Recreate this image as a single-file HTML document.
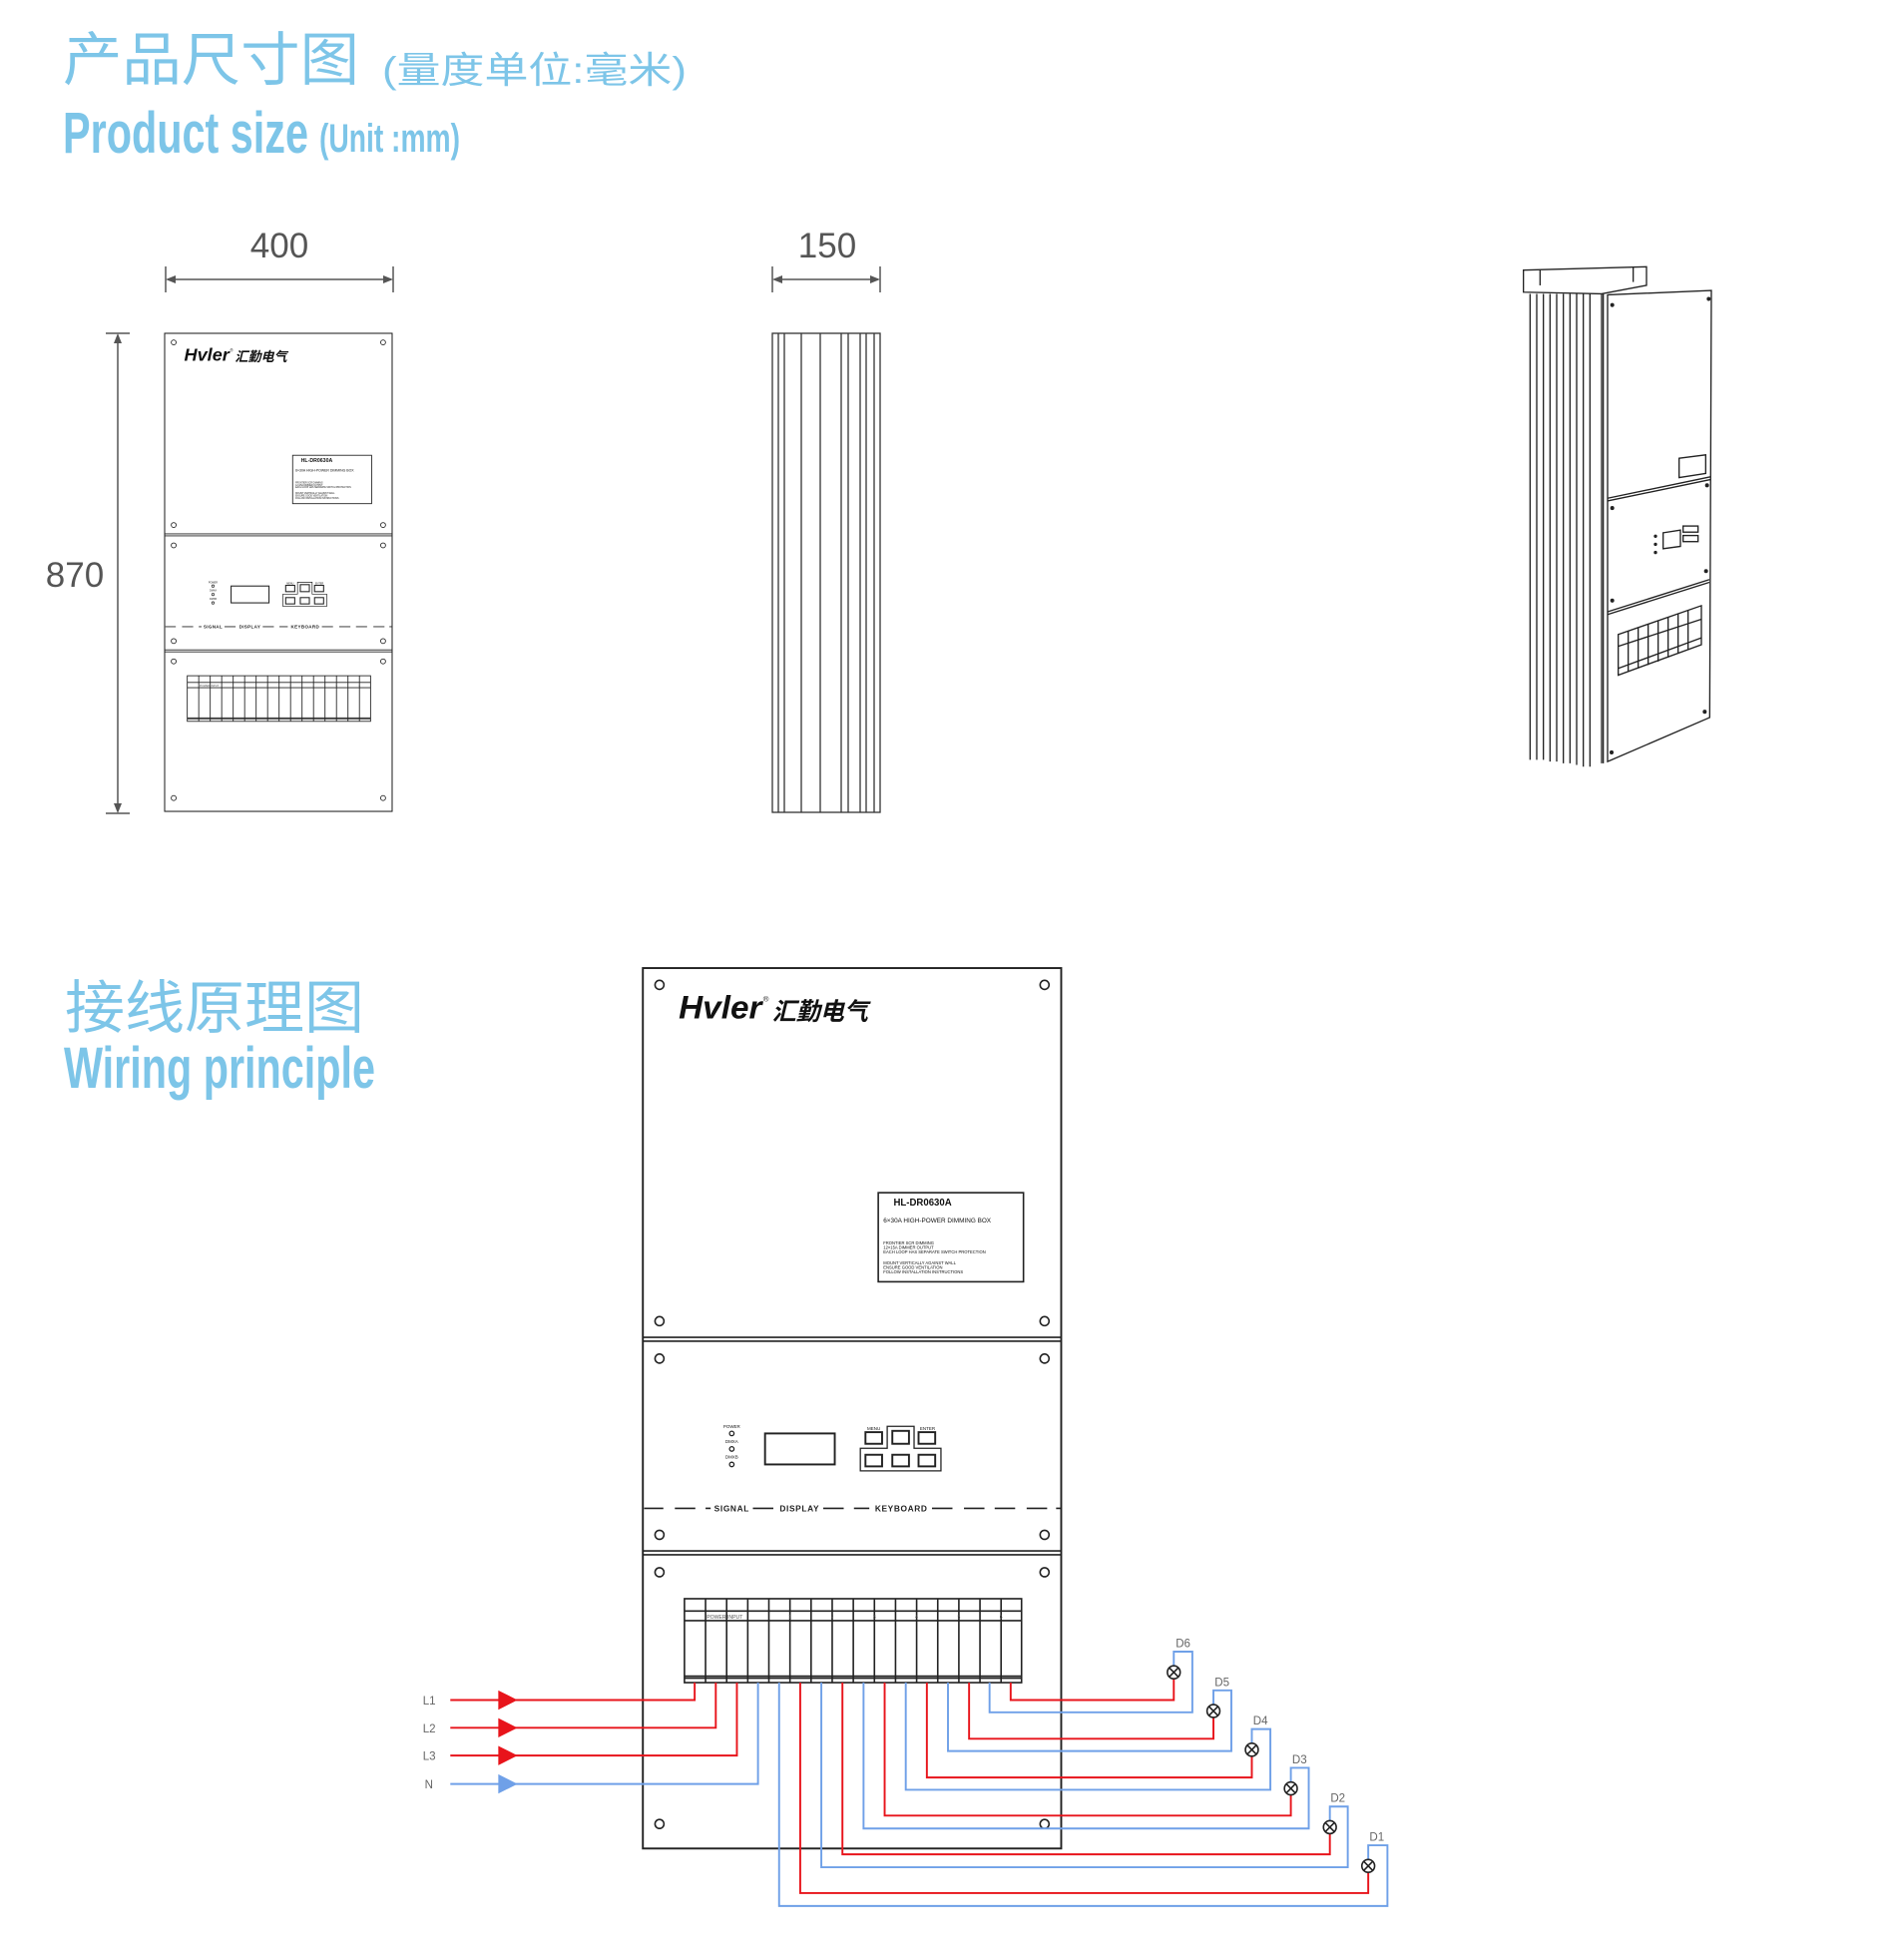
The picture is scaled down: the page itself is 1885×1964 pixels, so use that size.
<!DOCTYPE html>
<html><head><meta charset="utf-8">
<style>
html,body{margin:0;padding:0;background:#fff;}
body{width:1885px;height:1959px;overflow:hidden;}
svg text{font-family:"Liberation Sans","Noto Sans CJK SC",sans-serif;}
</style></head>
<body>
<svg width="1885" height="1959" viewBox="0 0 1885 1959" xmlns="http://www.w3.org/2000/svg" xmlns:xlink="http://www.w3.org/1999/xlink">
<defs>
<g id="panel" fill="none" stroke="#222">
  <rect x="0" y="0" width="654" height="1364" stroke-width="3" fill="#fff"/>
  <line x1="0" y1="572" x2="654" y2="572" stroke-width="2.5"/>
  <line x1="0" y1="578" x2="654" y2="578" stroke-width="2.5"/>
  <line x1="0" y1="903" x2="654" y2="903" stroke-width="2.5"/>
  <line x1="0" y1="909" x2="654" y2="909" stroke-width="2.5"/>
  <g stroke-width="2.5">
    <circle cx="26" cy="26" r="7"/><circle cx="628" cy="26" r="7"/>
    <circle cx="26" cy="547" r="7"/><circle cx="628" cy="547" r="7"/>
    <circle cx="26" cy="605" r="7"/><circle cx="628" cy="605" r="7"/>
    <circle cx="26" cy="878" r="7"/><circle cx="628" cy="878" r="7"/>
    <circle cx="26" cy="936" r="7"/><circle cx="628" cy="936" r="7"/>
    <circle cx="26" cy="1326" r="7"/><circle cx="628" cy="1326" r="7"/>
  </g>
  <g stroke="none" fill="#111">
    <text x="56" y="78" font-size="50" font-style="italic" font-weight="bold" textLength="130" lengthAdjust="spacingAndGlyphs">Hvler</text>
    <text x="188" y="52" font-size="12">®</text>
    <text x="202" y="80" font-size="38" font-weight="bold" font-style="italic" font-family="'Noto Sans CJK SC',sans-serif" textLength="150" lengthAdjust="spacingAndGlyphs">汇勤电气</text>
  </g>
  <rect x="368" y="348" width="227" height="138" stroke-width="2.5"/>
  <g stroke="none" fill="#111">
    <text x="392" y="368" font-size="15" font-weight="bold">HL-DR0630A</text>
    <text x="376" y="394" font-size="10">6×30A HIGH-POWER DIMMING BOX</text>
    <text x="376" y="428" font-size="6.5">FRONTIER SCR DIMMING</text>
    <text x="376" y="435" font-size="6.5">12×15A DIMMER OUTPUT</text>
    <text x="376" y="442" font-size="6.5">EACH LOOP HAS SEPARATE SWITCH PROTECTION</text>
    <text x="376" y="459" font-size="6.5">MOUNT VERTICALLY AGAINST WALL</text>
    <text x="376" y="466" font-size="6.5">ENSURE GOOD VENTILATION</text>
    <text x="376" y="473" font-size="6.5">FOLLOW INSTALLATION INSTRUCTIONS</text>
    <text x="139" y="713" font-size="7" text-anchor="middle">POWER</text>
    <text x="139" y="736" font-size="7" text-anchor="middle">DMXA</text>
    <text x="139" y="760" font-size="7" text-anchor="middle">DMXB</text>
    <text x="361" y="716" font-size="7" text-anchor="middle">MENU</text>
    <text x="445" y="716" font-size="7" text-anchor="middle">ENTER</text>
  </g>
  <circle cx="139" cy="721" r="3.5" stroke-width="2"/>
  <circle cx="139" cy="745" r="3.5" stroke-width="2"/>
  <circle cx="139" cy="769" r="3.5" stroke-width="2"/>
  <rect x="191" y="721" width="109" height="48" stroke-width="3"/>
  <polygon points="340,744 382,744 382,710 424,710 424,744 466,744 466,779 340,779" stroke-width="2"/>
  <g stroke-width="3">
    <rect x="348" y="719" width="26" height="18"/><rect x="390" y="717" width="26" height="20"/><rect x="431" y="719" width="26" height="18"/>
    <rect x="348" y="754" width="26" height="18"/><rect x="390" y="754" width="26" height="18"/><rect x="431" y="754" width="26" height="18"/>
  </g>
  <g stroke-width="2.5">
    <line x1="2" y1="837" x2="32" y2="837"/><line x1="50" y1="837" x2="82" y2="837"/>
    <line x1="98" y1="837" x2="106" y2="837"/><line x1="172" y1="837" x2="204" y2="837"/>
    <line x1="282" y1="837" x2="314" y2="837"/><line x1="330" y1="837" x2="354" y2="837"/>
    <line x1="452" y1="837" x2="484" y2="837"/><line x1="502" y1="837" x2="534" y2="837"/>
    <line x1="550" y1="837" x2="582" y2="837"/><line x1="600" y1="837" x2="632" y2="837"/>
    <line x1="646" y1="837" x2="654" y2="837"/>
  </g>
  <g stroke="none" fill="#222" font-size="13" font-weight="bold" letter-spacing="1">
    <text x="139" y="842" text-anchor="middle">SIGNAL</text>
    <text x="245" y="842" text-anchor="middle">DISPLAY</text>
    <text x="404" y="842" text-anchor="middle">KEYBOARD</text>
  </g>
  <g stroke-width="2.5">
    <rect x="65" y="977" width="527" height="130"/>
    <line x1="65" y1="996" x2="592" y2="996"/>
    <line x1="65" y1="1011" x2="592" y2="1011"/>
    <line x1="65" y1="1097" x2="592" y2="1097"/>
    <line x1="65" y1="1100" x2="592" y2="1100"/>
    <line x1="98" y1="977" x2="98" y2="1107"/><line x1="131" y1="977" x2="131" y2="1107"/>
    <line x1="164" y1="977" x2="164" y2="1107"/><line x1="197" y1="977" x2="197" y2="1107"/>
    <line x1="230" y1="977" x2="230" y2="1107"/><line x1="263" y1="977" x2="263" y2="1107"/>
    <line x1="296" y1="977" x2="296" y2="1107"/><line x1="329" y1="977" x2="329" y2="1107"/>
    <line x1="362" y1="977" x2="362" y2="1107"/><line x1="395" y1="977" x2="395" y2="1107"/>
    <line x1="428" y1="977" x2="428" y2="1107"/><line x1="461" y1="977" x2="461" y2="1107"/>
    <line x1="494" y1="977" x2="494" y2="1107"/><line x1="527" y1="977" x2="527" y2="1107"/>
    <line x1="560" y1="977" x2="560" y2="1107"/>
  </g>
  <g stroke="none" fill="#555" font-size="8" text-anchor="middle">
    <text x="128" y="1008">POWER INPUT</text>
    <text x="230" y="1008">1</text><text x="296" y="1008">2</text><text x="362" y="1008">3</text>
    <text x="428" y="1008">4</text><text x="494" y="1008">5</text><text x="560" y="1008">6</text>
  </g>
</g>
</defs>

<g fill="#7dc5e8">
  <text x="63" y="80" font-size="58" font-family="'Noto Sans CJK SC',sans-serif" textLength="297" lengthAdjust="spacingAndGlyphs">产品尺寸图</text>
  <text x="383" y="83" font-size="37" font-family="'Noto Sans CJK SC',sans-serif" textLength="305" lengthAdjust="spacingAndGlyphs">(量度单位:毫米)</text>
  <text x="63" y="153" font-size="58" font-weight="bold" textLength="246" lengthAdjust="spacingAndGlyphs">Product size</text>
  <text x="320" y="152" font-size="40" font-weight="bold" textLength="141" lengthAdjust="spacingAndGlyphs">(Unit :mm)</text>
  <text x="65" y="1030" font-size="58" font-family="'Noto Sans CJK SC',sans-serif" textLength="300" lengthAdjust="spacingAndGlyphs">接线原理图</text>
  <text x="64" y="1090" font-size="58" font-weight="bold" textLength="312" lengthAdjust="spacingAndGlyphs">Wiring principle</text>
</g>

<g stroke="#555" stroke-width="1.5" fill="#555">
  <line x1="166" y1="267" x2="166" y2="293"/><line x1="394" y1="267" x2="394" y2="293"/>
  <line x1="168" y1="280" x2="392" y2="280"/>
  <polygon points="166,280 176,276 176,284" stroke="none"/><polygon points="394,280 384,276 384,284" stroke="none"/>
  <line x1="774" y1="267" x2="774" y2="293"/><line x1="882" y1="267" x2="882" y2="293"/>
  <line x1="776" y1="280" x2="880" y2="280"/>
  <polygon points="774,280 784,276 784,284" stroke="none"/><polygon points="882,280 872,276 872,284" stroke="none"/>
  <line x1="106" y1="334" x2="130" y2="334"/><line x1="106" y1="815" x2="130" y2="815"/>
  <line x1="118" y1="336" x2="118" y2="813"/>
  <polygon points="118,334 114,344 122,344" stroke="none"/><polygon points="118,815 114,805 122,805" stroke="none"/>
</g>
<g fill="#555" font-size="35" text-anchor="middle">
  <text x="280" y="258">400</text>
  <text x="829" y="258">150</text>
  <text x="75" y="588">870</text>
</g>

<use xlink:href="#panel" href="#panel" transform="translate(165,334) scale(0.3486,0.3512)"/>

<g fill="none" stroke="#333" stroke-width="1.3">
  <rect x="774" y="334" width="108" height="480"/>
  <line x1="780" y1="334" x2="780" y2="814"/><line x1="786" y1="334" x2="786" y2="814"/>
  <line x1="803" y1="334" x2="803" y2="814"/><line x1="822" y1="334" x2="822" y2="814"/>
  <line x1="843" y1="334" x2="843" y2="814"/><line x1="850" y1="334" x2="850" y2="814"/>
  <line x1="862" y1="334" x2="862" y2="814"/><line x1="868" y1="334" x2="868" y2="814"/>
  <line x1="876" y1="334" x2="876" y2="814"/>
</g>

<svg x="1505" y="252" width="250" height="540" viewBox="0 0 750 1590" preserveAspectRatio="none">
<g fill="none" stroke="#222" stroke-width="4">
  <polygon points="65,55 435,45 435,100 300,125 65,120"/>
  <line x1="115" y1="55" x2="115" y2="100"/><line x1="395" y1="47" x2="395" y2="90"/>
  <line x1="85" y1="125" x2="85" y2="1500"/>
  <line x1="105" y1="125" x2="105" y2="1500"/><line x1="125" y1="125" x2="125" y2="1500"/>
  <line x1="145" y1="125" x2="145" y2="1505"/><line x1="165" y1="125" x2="165" y2="1505"/>
  <line x1="185" y1="125" x2="185" y2="1510"/><line x1="205" y1="125" x2="205" y2="1510"/>
  <line x1="225" y1="125" x2="225" y2="1515"/><line x1="245" y1="125" x2="245" y2="1520"/>
  <line x1="265" y1="125" x2="265" y2="1520"/>
  <line x1="300" y1="125" x2="300" y2="1510"/>
  <polygon points="318,128 630,115 625,1375 318,1505"/>
  <line x1="305" y1="125" x2="305" y2="1510"/>
  <line x1="318" y1="728" x2="627" y2="665"/><line x1="318" y1="736" x2="627" y2="673"/>
  <line x1="318" y1="1063" x2="624" y2="968"/><line x1="318" y1="1071" x2="624" y2="976"/>
  <polygon points="533,610 613,600 613,655 533,667"/>
  <polygon points="485,830 537,822 537,870 485,877"/>
  <rect x="545" y="810" width="45" height="18"/><rect x="545" y="838" width="45" height="18"/>
  <polygon points="350,1130 600,1045 600,1160 350,1250"/>
  <line x1="350" y1="1165" x2="600" y2="1085"/><line x1="350" y1="1230" x2="600" y2="1140"/>
  <line x1="380" y1="1120" x2="380" y2="1240"/><line x1="410" y1="1110" x2="410" y2="1230"/>
  <line x1="440" y1="1100" x2="440" y2="1220"/><line x1="470" y1="1090" x2="470" y2="1210"/>
  <line x1="500" y1="1080" x2="500" y2="1198"/><line x1="530" y1="1070" x2="530" y2="1187"/>
  <line x1="560" y1="1060" x2="560" y2="1176"/>
</g>
<g fill="#222">
  <circle cx="332" cy="158" r="6"/><circle cx="622" cy="140" r="6"/>
  <circle cx="332" cy="757" r="6"/><circle cx="617" cy="690" r="6"/>
  <circle cx="332" cy="1030" r="6"/><circle cx="614" cy="943" r="6"/>
  <circle cx="330" cy="1478" r="6"/><circle cx="610" cy="1358" r="6"/>
  <circle cx="462" cy="840" r="5"/><circle cx="462" cy="864" r="5"/><circle cx="462" cy="888" r="5"/>
</g>
</svg>

<svg x="400" y="950" width="1000" height="1009" viewBox="0 0 1560 1560" preserveAspectRatio="none">
<use xlink:href="#panel" href="#panel" transform="translate(381,31)"/>
<g fill="none" stroke-width="3">
  <g stroke="#e8141b">
    <polyline points="80,1165 462,1165 462,1138"/>
    <polyline points="80,1208 495,1208 495,1138"/>
    <polyline points="80,1251 528,1251 528,1138"/>
    <polyline points="627,1138 627,1464 1515,1464 1515,1432"/>
    <polyline points="693,1138 693,1404 1455,1404 1455,1372"/>
    <polyline points="759,1138 759,1344 1394,1344 1394,1312"/>
    <polyline points="825,1138 825,1285 1333,1285 1333,1252"/>
    <polyline points="891,1138 891,1225 1273,1225 1273,1192"/>
    <polyline points="956,1138 956,1165 1211,1165 1211,1132"/>
  </g>
  <g stroke="#6fa0e8">
    <polyline points="80,1295 561,1295 561,1138"/>
    <polyline points="594,1138 594,1484 1545,1484 1545,1390 1515,1390 1515,1412"/>
    <polyline points="660,1138 660,1424 1483,1424 1483,1330 1455,1330 1455,1352"/>
    <polyline points="726,1138 726,1364 1422,1364 1422,1270 1394,1270 1394,1292"/>
    <polyline points="792,1138 792,1304 1362,1304 1362,1210 1333,1210 1333,1232"/>
    <polyline points="858,1138 858,1244 1301,1244 1301,1150 1273,1150 1273,1172"/>
    <polyline points="923,1138 923,1184 1240,1184 1240,1090 1211,1090 1211,1112"/>
  </g>
</g>
<g fill="#e8141b">
  <polygon points="155,1150 185,1165 155,1180"/>
  <polygon points="155,1193 185,1208 155,1223"/>
  <polygon points="155,1236 185,1251 155,1266"/>
</g>
<polygon points="155,1280 185,1295 155,1310" fill="#6fa0e8"/>
<g fill="#fff" stroke="#222" stroke-width="2.5">
  <circle cx="1211" cy="1122" r="10"/><circle cx="1273" cy="1182" r="10"/><circle cx="1333" cy="1242" r="10"/>
  <circle cx="1394" cy="1302" r="10"/><circle cx="1455" cy="1362" r="10"/><circle cx="1515" cy="1422" r="10"/>
</g>
<g stroke="#222" stroke-width="2.5">
  <path d="M1204,1115 l14,14 M1218,1115 l-14,14"/>
  <path d="M1266,1175 l14,14 M1280,1175 l-14,14"/>
  <path d="M1326,1235 l14,14 M1340,1235 l-14,14"/>
  <path d="M1387,1295 l14,14 M1401,1295 l-14,14"/>
  <path d="M1448,1355 l14,14 M1462,1355 l-14,14"/>
  <path d="M1508,1415 l14,14 M1522,1415 l-14,14"/>
</g>
<g fill="#666" font-size="18">
  <text x="1214" y="1083">D6</text><text x="1275" y="1143">D5</text><text x="1335" y="1203">D4</text>
  <text x="1396" y="1263">D3</text><text x="1456" y="1323">D2</text><text x="1517" y="1383">D1</text>
  <text x="37" y="1172">L1</text><text x="37" y="1215">L2</text><text x="37" y="1258">L3</text><text x="40" y="1302">N</text>
</g>
</svg>
</svg>
</body></html>
